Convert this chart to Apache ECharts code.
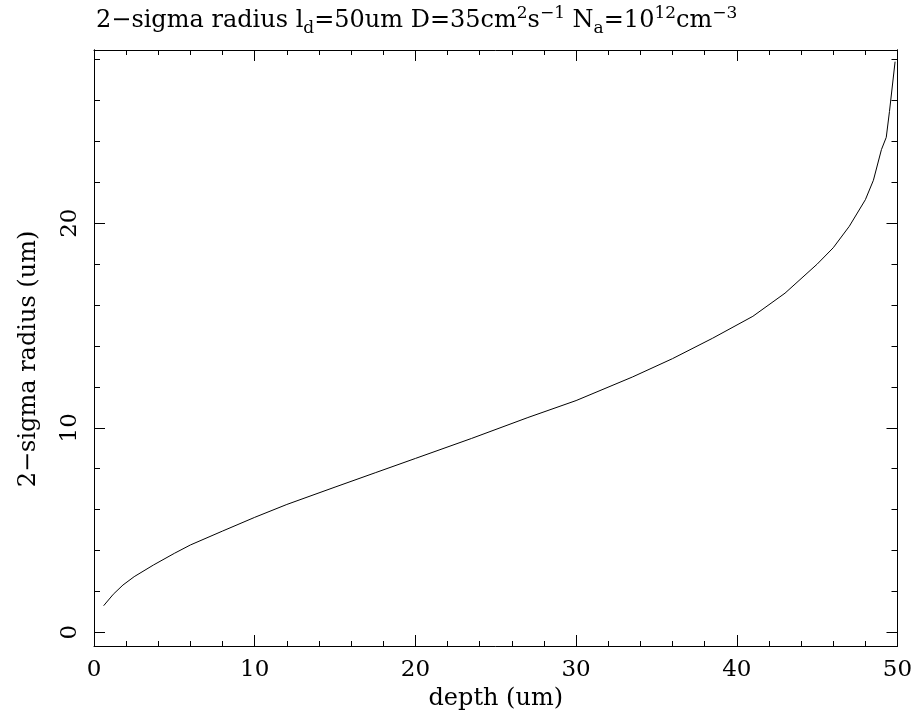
<!DOCTYPE html>
<html>
<head>
<meta charset="utf-8">
<script src="https://cdn.jsdelivr.net/npm/echarts@6/dist/echarts.min.js"></script>
<style>html,body{margin:0;padding:0;background:#fff}#c{width:916px;height:718px}</style>
</head>
<body>
<div id="c"></div>
<script>
// depth (um) and 2-sigma radius (um)
var depth  = [0.6, 1.2, 1.8, 2.5, 3.7, 5, 6, 8, 10, 12, 15, 17.5, 20, 23.5, 27, 30, 33.5, 36, 38.5, 41, 43, 45, 46, 47, 48, 48.5, 49, 49.3, 49.5, 49.85];
var radius = [1.30, 1.86, 2.31, 2.72, 3.29, 3.86, 4.27, 4.95, 5.62, 6.25, 7.10, 7.80, 8.50, 9.48, 10.50, 11.33, 12.48, 13.38, 14.38, 15.45, 16.58, 18.00, 18.80, 19.85, 21.15, 22.10, 23.60, 24.20, 25.46, 27.90];
var yMajorTicks = [0, 10, 20];
var yMinorTicks = [2, 4, 6, 8, 12, 14, 16, 18, 22, 24, 26, 28];
var xRange = [0, 50];
var yRange = [-0.67, 28.47];

var FONT = 'DejaVu Serif';
var FS = 23;
var pts = depth.map(function (d, i) { return [d, radius[i]]; });

function yAx(pos, ticks, len, labels) {
  return {
    type: 'value', position: pos, min: yRange[0], max: yRange[1],
    axisLine: { show: true, lineStyle: { color: '#000', width: 1 } },
    splitLine: { show: false },
    axisTick: { show: true, inside: true, length: len, customValues: ticks, lineStyle: { color: '#000', width: 1 } },
    axisLabel: labels ? { show: true, customValues: ticks, rotate: 90, margin: 12, color: '#000', fontFamily: FONT, fontSize: FS } : { show: false }
  };
}
function xAx(pos, labels) {
  return {
    type: 'value', position: pos, min: xRange[0], max: xRange[1], interval: 10,
    axisLine: { show: true, onZero: false, lineStyle: { color: '#000', width: 1 } },
    splitLine: { show: false },
    axisTick: { show: true, inside: true, length: 11, lineStyle: { color: '#000', width: 1 } },
    minorTick: { show: true, splitNumber: 5, length: 5, lineStyle: { color: '#000', width: 1 } },
    axisLabel: labels ? { show: true, margin: 13, color: '#000', fontFamily: FONT, fontSize: FS } : { show: false }
  };
}

var chart = echarts.init(document.getElementById('c'), null, { renderer: 'canvas' });
chart.setOption({
  animation: false,
  backgroundColor: '#fff',
  title: {
    left: 91, top: 0,
    text: '2\u2212sigma radius l{sub|d}=50um D=35cm{sup|2}s{sup|\u22121} N{sub|a}=10{sup|12}cm{sup|\u22123}',
    textStyle: {
      color: '#000', fontFamily: FONT, fontSize: 24, fontWeight: 'normal', lineHeight: 32,
      rich: {
        sup: { fontFamily: FONT, fontSize: 17, color: '#000', verticalAlign: 'top', lineHeight: 16 },
        sub: { fontFamily: FONT, fontSize: 17, color: '#000', verticalAlign: 'bottom', lineHeight: 16 }
      }
    }
  },
  grid: { left: 94, right: 18.5, top: 50, bottom: 72, containLabel: false },
  xAxis: [
    Object.assign(xAx('bottom', true), { name: 'depth (um)', nameLocation: 'middle', nameGap: 37, nameTextStyle: { color: '#000', fontFamily: FONT, fontSize: 24 } }),
    xAx('top', false)
  ],
  yAxis: [
    Object.assign(yAx('left', yMajorTicks, 11, true), { name: '2\u2212sigma radius (um)', nameLocation: 'middle', nameGap: 53, nameTextStyle: { color: '#000', fontFamily: FONT, fontSize: 24, padding: [0, 22, 0, 0] } }),
    yAx('left', yMinorTicks, 6, false),
    yAx('right', yMajorTicks, 11, false),
    yAx('right', yMinorTicks, 6, false)
  ],
  series: [{
    type: 'line', xAxisIndex: 0, yAxisIndex: 0, data: pts, showSymbol: false, smooth: false,
    lineStyle: { color: '#000', width: 1 }
  }]
});
</script>
</body>
</html>
